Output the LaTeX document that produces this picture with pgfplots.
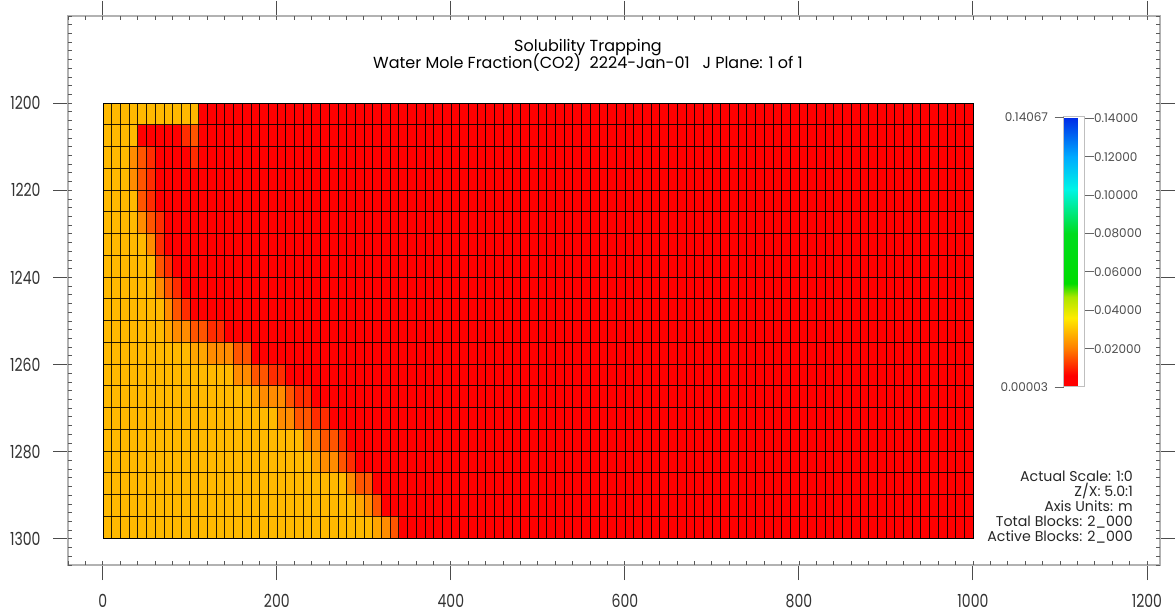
\documentclass[border=0pt]{standalone}
\usepackage{pgfplots}
\pgfplotsset{compat=1.18}
\usepackage{pgfplotstable}
\usepgfplotslibrary{patchplots}
\usepackage{fontspec}
\setmainfont{Poppins}
\newfontfamily\tickfont{Poppins}[FakeStretch=0.78]

\pgfplotsset{
  colormap={cmg}{
    rgb255(0.3pt)=(255,0,0)
    rgb255(60pt)=(255,0,0)
    rgb255(200pt)=(255,125,0)
    rgb255(360pt)=(255,235,0)
    rgb255(470pt)=(170,230,0)
    rgb255(540pt)=(0,220,0)
    rgb255(800pt)=(0,220,30)
    rgb255(1030pt)=(0,245,230)
    rgb255(1200pt)=(0,170,255)
    rgb255(1406.7pt)=(0,40,230)
  }
}

% blocks of equal value: four corners (x y) of each rectangle, and its value c
\pgfplotstableread{
x y c
0 1200 0.0288
110 1200 0.0288
110 1205 0.0288
0 1205 0.0288
110 1200 0.0005
1000 1200 0.0005
1000 1205 0.0005
110 1205 0.0005
0 1205 0.0288
40 1205 0.0288
40 1210 0.0288
0 1210 0.0288
40 1205 0.0005
90 1205 0.0005
90 1210 0.0005
40 1210 0.0005
90 1205 0.0110
100 1205 0.0110
100 1210 0.0110
90 1210 0.0110
100 1205 0.0155
110 1205 0.0155
110 1210 0.0155
100 1210 0.0155
110 1205 0.0005
1000 1205 0.0005
1000 1210 0.0005
110 1210 0.0005
0 1210 0.0288
30 1210 0.0288
30 1215 0.0288
0 1215 0.0288
30 1210 0.0222
40 1210 0.0222
40 1215 0.0222
30 1215 0.0222
40 1210 0.0155
50 1210 0.0155
50 1215 0.0155
40 1215 0.0155
50 1210 0.0110
60 1210 0.0110
60 1215 0.0110
50 1215 0.0110
60 1210 0.0005
100 1210 0.0005
100 1215 0.0005
60 1215 0.0005
100 1210 0.0110
110 1210 0.0110
110 1215 0.0110
100 1215 0.0110
110 1210 0.0005
1000 1210 0.0005
1000 1215 0.0005
110 1215 0.0005
0 1215 0.0288
30 1215 0.0288
30 1220 0.0288
0 1220 0.0288
30 1215 0.0222
40 1215 0.0222
40 1220 0.0222
30 1220 0.0222
40 1215 0.0155
50 1215 0.0155
50 1220 0.0155
40 1220 0.0155
50 1215 0.0110
60 1215 0.0110
60 1220 0.0110
50 1220 0.0110
60 1215 0.0005
1000 1215 0.0005
1000 1220 0.0005
60 1220 0.0005
0 1220 0.0288
40 1220 0.0288
40 1225 0.0288
0 1225 0.0288
40 1220 0.0155
50 1220 0.0155
50 1225 0.0155
40 1225 0.0155
50 1220 0.0110
60 1220 0.0110
60 1225 0.0110
50 1225 0.0110
60 1220 0.0005
1000 1220 0.0005
1000 1225 0.0005
60 1225 0.0005
0 1225 0.0288
40 1225 0.0288
40 1230 0.0288
0 1230 0.0288
40 1225 0.0222
50 1225 0.0222
50 1230 0.0222
40 1230 0.0222
50 1225 0.0155
60 1225 0.0155
60 1230 0.0155
50 1230 0.0155
60 1225 0.0110
70 1225 0.0110
70 1230 0.0110
60 1230 0.0110
70 1225 0.0005
1000 1225 0.0005
1000 1230 0.0005
70 1230 0.0005
0 1230 0.0288
50 1230 0.0288
50 1235 0.0288
0 1235 0.0288
50 1230 0.0222
60 1230 0.0222
60 1235 0.0222
50 1235 0.0222
60 1230 0.0110
70 1230 0.0110
70 1235 0.0110
60 1235 0.0110
70 1230 0.0005
1000 1230 0.0005
1000 1235 0.0005
70 1235 0.0005
0 1235 0.0288
60 1235 0.0288
60 1240 0.0288
0 1240 0.0288
60 1235 0.0155
70 1235 0.0155
70 1240 0.0155
60 1240 0.0155
70 1235 0.0110
80 1235 0.0110
80 1240 0.0110
70 1240 0.0110
80 1235 0.0005
1000 1235 0.0005
1000 1240 0.0005
80 1240 0.0005
0 1240 0.0288
60 1240 0.0288
60 1245 0.0288
0 1245 0.0288
60 1240 0.0222
70 1240 0.0222
70 1245 0.0222
60 1245 0.0222
70 1240 0.0155
80 1240 0.0155
80 1245 0.0155
70 1245 0.0155
80 1240 0.0110
90 1240 0.0110
90 1245 0.0110
80 1245 0.0110
90 1240 0.0005
1000 1240 0.0005
1000 1245 0.0005
90 1245 0.0005
0 1245 0.0288
70 1245 0.0288
70 1250 0.0288
0 1250 0.0288
70 1245 0.0222
80 1245 0.0222
80 1250 0.0222
70 1250 0.0222
80 1245 0.0155
90 1245 0.0155
90 1250 0.0155
80 1250 0.0155
90 1245 0.0110
100 1245 0.0110
100 1250 0.0110
90 1250 0.0110
100 1245 0.0005
1000 1245 0.0005
1000 1250 0.0005
100 1250 0.0005
0 1250 0.0288
70 1250 0.0288
70 1255 0.0288
0 1255 0.0288
70 1250 0.0258
80 1250 0.0258
80 1255 0.0258
70 1255 0.0258
80 1250 0.0222
100 1250 0.0222
100 1255 0.0222
80 1255 0.0222
100 1250 0.0155
120 1250 0.0155
120 1255 0.0155
100 1255 0.0155
120 1250 0.0110
140 1250 0.0110
140 1255 0.0110
120 1255 0.0110
140 1250 0.0005
1000 1250 0.0005
1000 1255 0.0005
140 1255 0.0005
0 1255 0.0288
100 1255 0.0288
100 1260 0.0288
0 1260 0.0288
100 1255 0.0258
120 1255 0.0258
120 1260 0.0258
100 1260 0.0258
120 1255 0.0222
150 1255 0.0222
150 1260 0.0222
120 1260 0.0222
150 1255 0.0155
170 1255 0.0155
170 1260 0.0155
150 1260 0.0155
170 1255 0.0005
1000 1255 0.0005
1000 1260 0.0005
170 1260 0.0005
0 1260 0.0288
150 1260 0.0288
150 1265 0.0288
0 1265 0.0288
150 1260 0.0222
170 1260 0.0222
170 1265 0.0222
150 1265 0.0222
170 1260 0.0155
190 1260 0.0155
190 1265 0.0155
170 1265 0.0155
190 1260 0.0110
210 1260 0.0110
210 1265 0.0110
190 1265 0.0110
210 1260 0.0005
1000 1260 0.0005
1000 1265 0.0005
210 1265 0.0005
0 1265 0.0288
170 1265 0.0288
170 1270 0.0288
0 1270 0.0288
170 1265 0.0258
180 1265 0.0258
180 1270 0.0258
170 1270 0.0258
180 1265 0.0222
210 1265 0.0222
210 1270 0.0222
180 1270 0.0222
210 1265 0.0155
220 1265 0.0155
220 1270 0.0155
210 1270 0.0155
220 1265 0.0110
240 1265 0.0110
240 1270 0.0110
220 1270 0.0110
240 1265 0.0005
1000 1265 0.0005
1000 1270 0.0005
240 1270 0.0005
0 1270 0.0288
200 1270 0.0288
200 1275 0.0288
0 1275 0.0288
200 1270 0.0222
220 1270 0.0222
220 1275 0.0222
200 1275 0.0222
220 1270 0.0155
240 1270 0.0155
240 1275 0.0155
220 1275 0.0155
240 1270 0.0110
260 1270 0.0110
260 1275 0.0110
240 1275 0.0110
260 1270 0.0005
1000 1270 0.0005
1000 1275 0.0005
260 1275 0.0005
0 1275 0.0288
230 1275 0.0288
230 1280 0.0288
0 1280 0.0288
230 1275 0.0222
250 1275 0.0222
250 1280 0.0222
230 1280 0.0222
250 1275 0.0155
270 1275 0.0155
270 1280 0.0155
250 1280 0.0155
270 1275 0.0110
280 1275 0.0110
280 1280 0.0110
270 1280 0.0110
280 1275 0.0005
1000 1275 0.0005
1000 1280 0.0005
280 1280 0.0005
0 1280 0.0288
240 1280 0.0288
240 1285 0.0288
0 1285 0.0288
240 1280 0.0258
250 1280 0.0258
250 1285 0.0258
240 1285 0.0258
250 1280 0.0222
270 1280 0.0222
270 1285 0.0222
250 1285 0.0222
270 1280 0.0155
280 1280 0.0155
280 1285 0.0155
270 1285 0.0155
280 1280 0.0110
290 1280 0.0110
290 1285 0.0110
280 1285 0.0110
290 1280 0.0005
1000 1280 0.0005
1000 1285 0.0005
290 1285 0.0005
0 1285 0.0288
280 1285 0.0288
280 1290 0.0288
0 1290 0.0288
280 1285 0.0222
290 1285 0.0222
290 1290 0.0222
280 1290 0.0222
290 1285 0.0155
310 1285 0.0155
310 1290 0.0155
290 1290 0.0155
310 1285 0.0005
1000 1285 0.0005
1000 1290 0.0005
310 1290 0.0005
0 1290 0.0288
290 1290 0.0288
290 1295 0.0288
0 1295 0.0288
290 1290 0.0258
300 1290 0.0258
300 1295 0.0258
290 1295 0.0258
300 1290 0.0222
310 1290 0.0222
310 1295 0.0222
300 1295 0.0222
310 1290 0.0155
320 1290 0.0155
320 1295 0.0155
310 1295 0.0155
320 1290 0.0005
1000 1290 0.0005
1000 1295 0.0005
320 1295 0.0005
0 1295 0.0288
310 1295 0.0288
310 1300 0.0288
0 1300 0.0288
310 1295 0.0258
320 1295 0.0258
320 1300 0.0258
310 1300 0.0258
320 1295 0.0222
330 1295 0.0222
330 1300 0.0222
320 1300 0.0222
330 1295 0.0155
340 1295 0.0155
340 1300 0.0155
330 1300 0.0155
340 1295 0.0005
1000 1295 0.0005
1000 1300 0.0005
340 1300 0.0005
}\cells

\begin{document}
\begin{tikzpicture}[x=1pt,y=1pt]
\useasboundingbox (0,0) rectangle (1175,613);

% outer frame with major ticks and labels
\begin{axis}[
  at={(68pt,48pt)}, anchor=south west,
  scale only axis, width=1092pt, height=549pt,
  xmin=-40, xmax=1215, ymin=1180, ymax=1306, y dir=reverse,
  xtick={0,200,400,600,800,1000,1200},
  xticklabels={0,200,400,600,800,1000,1200},
  ytick={1200,1220,1240,1260,1280,1300},
  yticklabels={1200,1220,1240,1260,1280,1300},
  tick align=outside, major tick length=15pt,
  tick style={black!70, line width=0.9pt},
  axis line style={black!30, line width=1.2pt},
  xticklabel pos=left, yticklabel pos=left,
  ticklabel style={font=\tickfont\fontsize{18}{20}\selectfont, text=black!80},
  xticklabel style={yshift=-11pt},
  yticklabel style={xshift=-9pt},
]
\end{axis}

% minor inward ticks
\begin{axis}[
  at={(68pt,48pt)}, anchor=south west,
  scale only axis, width=1092pt, height=549pt,
  xmin=-40, xmax=1215, ymin=1180, ymax=1306, y dir=reverse,
  xtick={-40,-20,...,1200}, ytick={1180,1182,...,1306},
  xticklabels={}, yticklabels={},
  tick align=inside, major tick length=4pt,
  tick style={black!65, line width=0.8pt},
  axis line style={draw=none},
]
\end{axis}

% grid blocks
\begin{axis}[
  at={(103pt,75pt)}, anchor=south west,
  scale only axis, width=870pt, height=435pt,
  xmin=0, xmax=1000, ymin=1200, ymax=1300, y dir=reverse,
  xtick={0,10,...,1000}, ytick={1200,1205,...,1300},
  xticklabels={}, yticklabels={},
  major tick length=0pt,
  grid=major, grid style={black, line width=0.7pt, opacity=0.85},
  axis line style={black, line width=0.9pt},
  axis on top,
  colormap name=cmg,
  point meta min=0.00003, point meta max=0.14067,
  colorbar,
  colorbar style={
    at={(parent axis.north east)}, anchor=north west,
    xshift=82pt, yshift=-14pt,
    scale only axis, width=21pt, height=270pt,
    y dir=normal, grid=none,
    ytick={0.02,0.04,0.06,0.08,0.1,0.12,0.14},
    yticklabels={0.02000,0.04000,0.06000,0.08000,0.10000,0.12000,0.14000},
    ytick pos=right, yticklabel pos=right,
    tick align=outside, major tick length=9pt,
    tick style={black!60, line width=0.8pt},
    axis line style={black!25, line width=1pt},
    yticklabel style={font=\fontsize{12}{13}\selectfont, text=black!70, xshift=-3pt},
    extra y ticks={0.00003,0.14067},
    extra y tick labels={0.00003,0.14067},
    extra y tick style={ytick pos=left, yticklabel pos=left},
  },
]
\addplot[patch, patch type=rectangle, shader=flat, point meta=explicit]
  table[x=x, y=y, meta=c] {\cells};
\end{axis}

% titles
\node[anchor=base, font=\fontsize{16}{18}\selectfont] at (588,561.5) {Solubility Trapping};
\node[anchor=base, font=\fontsize{16}{18}\selectfont] at (588,544)
  {Water Mole Fraction(CO2)\ \ 2224-Jan-01\ \ \ J Plane: 1 of 1};

% info block
\begin{scope}[every node/.style={anchor=base east, inner sep=0pt, font=\fontsize{14.2}{16}\selectfont, text=black!85}]
\node at (1133,131.3) {Actual Scale: 1:0};
\node at (1133,116.3) {Z/X: 5.0:1};
\node at (1133,101.3) {Axis Units: m};
\node at (1133,86.3) {Total Blocks: 2\_000};
\node at (1133,71.3) {Active Blocks: 2\_000};
\end{scope}
\end{tikzpicture}
\end{document}
